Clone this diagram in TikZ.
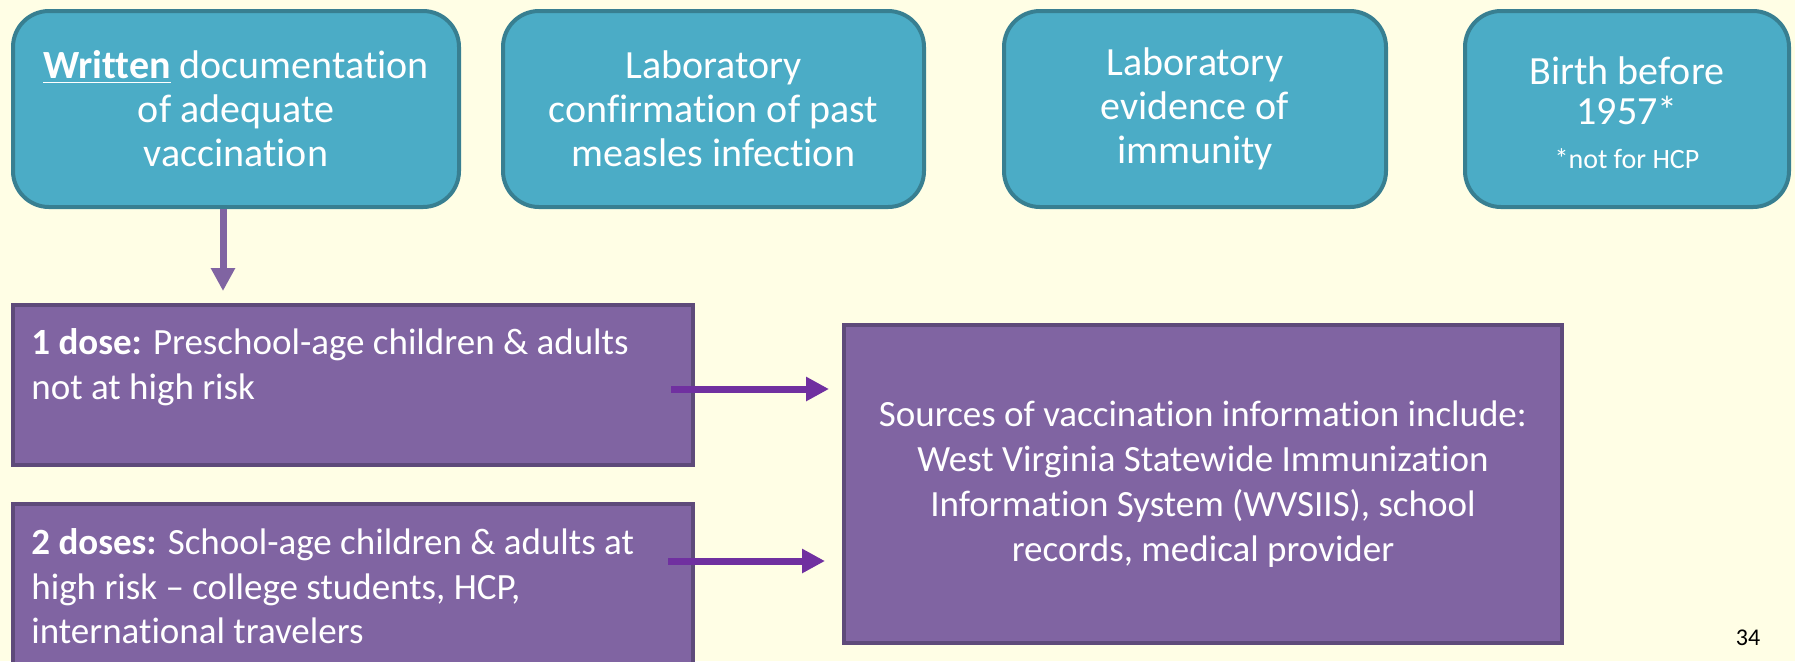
\documentclass[tikz,border=0pt]{standalone}
\usepackage{fontspec}
\setmainfont{Carlito}[Ligatures={NoCommon,NoContextual,NoRequired}, RawFeature={-clig;-dlig;-hlig}]
\usepackage{tikz}
\usetikzlibrary{arrows.meta, positioning, calc}

\definecolor{pagebg}{RGB}{255,254,229}
\definecolor{tealfill}{RGB}{75,172,198}
\definecolor{tealline}{RGB}{56,127,145}
\definecolor{dosefill}{RGB}{128,100,162}
\definecolor{doseline}{RGB}{94,74,122}
\definecolor{arrowviolet}{RGB}{112,48,160}

\begin{document}
\begin{tikzpicture}[x=0.5pt, y=-0.5pt,
    proof/.style={draw=tealline, fill=tealfill, line width=2pt, rounded corners=18pt, minimum height=98pt, inner sep=0pt, align=center, text=white, font=\fontsize{20}{22}\selectfont},
    dosebox/.style={draw=doseline, fill=dosefill, line width=2pt, inner sep=0pt},
    dosetext/.style={text=white, align=left, inner sep=0pt, font=\fontsize{18.5}{22.4}\selectfont},
    flow/.style={line width=3.5pt, -{Triangle[length=11.5pt, width=11.5pt]}}
]
    \useasboundingbox (0,0) rectangle (1795,661);
    \fill[pagebg] (0,0) rectangle (1795,661);
    \clip (0,0) rectangle (1795,661);

    % ways to show evidence
    \node[proof, minimum width=223pt] (written) at (236,109) {\underline{\textbf{Written}} documentation\\of adequate\\vaccination};
    \node[proof, minimum width=210.5pt] (labpast) at (713.5,109) {Laboratory\\confirmation of past\\measles infection};
    \node[proof, minimum width=191pt] (labimmune) at (1195,109) {Laboratory\\evidence of\\immunity};
    \node[proof, minimum width=162pt] (birth) at (1627,109) {};
    \node[text=white, align=center, inner sep=0pt, font=\fontsize{20}{22}\selectfont] (birthtext) at (1627,113) {Birth before\\[-2pt]1957*\\{\fontsize{14}{16}\selectfont *not for HCP}};

    % doses
    \node[dosebox, minimum width=340pt, minimum height=80pt] (dose1) at (353,385) {};
    \node[dosetext, anchor=north west] at (31,328) {\textbf{1 dose:} Preschool-age children \& adults\\not at high risk};
    \node[dosebox, minimum width=340pt, minimum height=97pt] (dose2) at (353,601) {};
    \node[dosetext, anchor=north west] at (31,528) {\textbf{2 doses:} School-age children \& adults at\\high risk – college students, HCP,\\international travelers};

    \node[dosebox, minimum width=359pt, minimum height=159pt, text=white, align=center, font=\fontsize{18.5}{22.4}\selectfont] (sources) at (1203,484) {Sources of vaccination information include:\\West Virginia Statewide Immunization\\Information System (WVSIIS), school\\records, medical provider};

    \draw[flow, draw=dosefill, shorten >=6pt] ($(written.south)+(-13,0)$) -- ($(written.south |- dose1.north)+(-13,0)$);
    \draw[flow, draw=arrowviolet, shorten <=-12pt, shorten >=6.5pt] ($(dose1.east)+(0,4)$) -- ($(dose1.east -| sources.west)+(0,4)$);
    \draw[flow, draw=arrowviolet, shorten <=-13.5pt, shorten >=8.5pt] ($(dose2.east)+(0,-40)$) -- ($(dose2.east -| sources.west)+(0,-40)$);

    \node[font=\fontsize{12}{14}\selectfont] (pagenum) at (1748,638) {34};
\end{tikzpicture}
\end{document}
